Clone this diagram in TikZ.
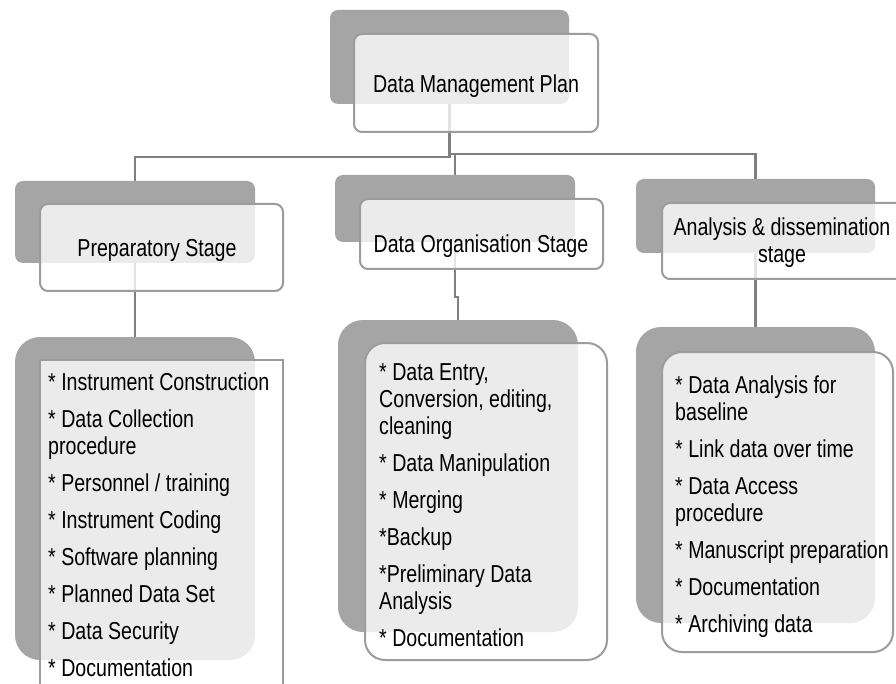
\documentclass[tikz,border=0pt]{standalone}
\usepackage{fontspec}
\setmainfont{Liberation Sans}[FakeStretch=0.8]
\pgfdeclarelayer{bg}
\pgfsetlayers{bg,main}
\definecolor{backgray}{HTML}{A5A5A5}
\definecolor{bordergray}{HTML}{9C9C9C}
\definecolor{conngray}{HTML}{808080}
\tikzset{
  backbox/.style={draw=none, fill=backgray, rectangle, inner sep=0pt, rounded corners=8pt},
  frontbox/.style={draw=bordergray, line width=2pt, fill=white, fill opacity=0.78, rectangle, inner sep=0pt, rounded corners=8pt},
  conn/.style={draw=conngray, line width=2.2pt},
  lbl/.style={font=\fontsize{24.5}{27}\selectfont, inner sep=0pt, text=black},
  listtext/.style={lbl, align=left, anchor=north west},
}
\begin{document}
\begin{tikzpicture}[x=1pt, y=-1pt]
\useasboundingbox (0,0) rectangle (896,684);
\clip (0,0) rectangle (896,684);
% top
\node[backbox, minimum width=239, minimum height=94] (dmpB) at (449.5,57) {};
\node[frontbox, minimum width=244, minimum height=98] (dmpF) at (476,83) {};
% stages
\node[backbox, minimum width=240, minimum height=82] (prepB) at (135,222) {};
\node[frontbox, minimum width=243, minimum height=87] (prepF) at (161.5,247.5) {};
\node[backbox, minimum width=240, minimum height=67] (orgB) at (455,208.5) {};
\node[frontbox, minimum width=243, minimum height=70] (orgF) at (481.5,234) {};
\node[backbox, minimum width=239, minimum height=74] (anaB) at (755.5,216) {};
\node[frontbox, minimum width=243, minimum height=76] (anaF) at (783.5,241) {};
% lists
\node[backbox, rounded corners=25pt, minimum width=240, minimum height=323] (plB) at (135,498.5) {};
\node[frontbox, sharp corners, minimum width=243, minimum height=360] (plF) at (161.5,540) {};
\node[backbox, rounded corners=25pt, minimum width=240, minimum height=312] (olB) at (458,476) {};
\node[frontbox, rounded corners=20pt, minimum width=242, minimum height=317] (olF) at (486,501.5) {};
\node[backbox, rounded corners=25pt, minimum width=239, minimum height=296] (alB) at (755.5,475) {};
\node[frontbox, rounded corners=20pt, minimum width=231, minimum height=300] (alF) at (777.5,502) {};
% texts
\node[lbl, anchor=base] (dmpT) at (476,93) {Data Management Plan};
\node[lbl, anchor=base] (prepT) at (157,257) {Preparatory Stage};
\node[lbl, anchor=base] (orgT) at (481,253) {Data Organisation Stage};
\node[lbl, align=center, anchor=north] (anaT) at (782,218) {Analysis \& dissemination\\stage};
\node[listtext] (plT) at (48,373) {{*} Instrument Construction\\[10pt]
{*} Data Collection\\procedure\\[10pt]
{*} Personnel / training\\[10pt]
{*} Instrument Coding\\[10pt]
{*} Software planning\\[10pt]
{*} Planned Data Set\\[10pt]
{*} Data Security\\[10pt]
{*} Documentation};
\node[listtext] (olT) at (379,363) {{*} Data Entry,\\Conversion, editing,\\cleaning\\[10pt]
{*} Data Manipulation\\[10pt]
{*} Merging\\[10pt]
{*}Backup\\[10pt]
{*}Preliminary Data\\Analysis\\[10pt]
{*} Documentation};
\node[listtext] (alT) at (675,376) {{*} Data Analysis for\\baseline\\[10pt]
{*} Link data over time\\[10pt]
{*} Data Access\\procedure\\[10pt]
{*} Manuscript preparation\\[10pt]
{*} Documentation\\[10pt]
{*} Archiving data};
% connectors
\begin{pgfonlayer}{bg}
\fill[white] (0,0) rectangle (896,684);
\coordinate (j1) at (449.5,157);
\coordinate (j2) at (449.5,154);
\draw[conn] (dmpB.south) -- (j1) -| (prepB.north);
\draw[conn] (j2) -| (anaB.north);
\draw[conn] (j2) -| (orgB.north);
\draw[conn] (prepB.south) -- (plB.north);
\draw[conn] (orgB.south) -- ++(0,55) -| (olB.north);
\draw[conn] (anaB.south) -- (alB.north);
\end{pgfonlayer}
\end{tikzpicture}
\end{document}
